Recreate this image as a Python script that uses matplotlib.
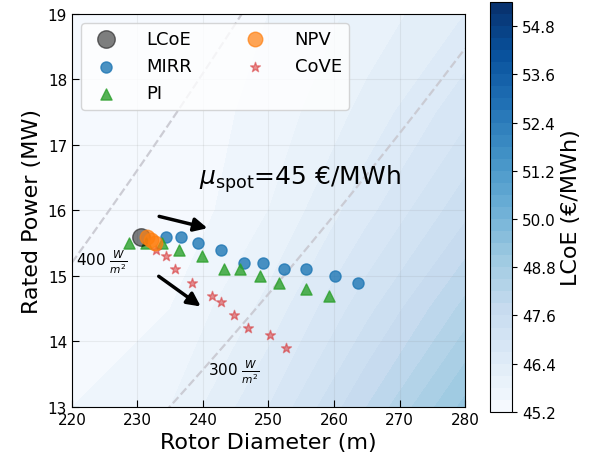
import numpy as np
import matplotlib
matplotlib.use("Agg")
import matplotlib.pyplot as plt

# LCoE background field (EUR/MWh)
grid_d = [220, 235, 250, 265, 280]
grid_p = [13, 14.5, 16, 17.5, 19]
grid_lcoe = [
    [45.5, 45.8, 46.7, 47.9, 49.2],
    [45.4, 45.5, 46.2, 47.2, 48.3],
    [45.4, 45.25, 45.8, 46.6, 47.5],
    [45.4, 45.3, 45.6, 46.2, 46.9],
    [45.4, 45.3, 45.5, 45.9, 46.4],
]

# optimal designs per metric
lcoe_d = [230.6]
lcoe_p = [15.6]
npv_d = [231.4, 232.0, 232.6]
npv_p = [15.6, 15.55, 15.5]
mirr_d = [234.3, 236.7, 239.3, 242.7, 246.2, 249.2, 252.3, 255.7, 260.2, 263.7]
mirr_p = [15.6, 15.6, 15.5, 15.4, 15.2, 15.2, 15.1, 15.1, 15.0, 14.9]
pi_d = [228.7, 231.3, 233.8, 236.3, 239.8, 243.2, 245.7, 248.7, 251.6, 255.7, 259.2]
pi_p = [15.5, 15.5, 15.5, 15.4, 15.3, 15.1, 15.1, 15.0, 14.9, 14.8, 14.7]
cove_d = [232.8, 234.4, 235.8, 238.3, 241.3, 242.7, 244.7, 246.8, 250.2, 252.7]
cove_p = [15.4, 15.3, 15.1, 14.9, 14.7, 14.6, 14.4, 14.2, 14.1, 13.9]

specific_powers = [400, 300]  # W/m^2

fig = plt.figure(figsize=(5.89, 4.64), dpi=100)
ax = fig.add_axes([0.1222, 0.1207, 0.6673, 0.847])
cax = fig.add_axes([0.832, 0.110, 0.0374, 0.8836])

levels = np.linspace(45.2, 55.4, 35)
cf = ax.contourf(grid_d, grid_p, grid_lcoe, levels=levels, cmap="Blues")
cb = fig.colorbar(cf, cax=cax)
cb.set_ticks([45.2, 46.4, 47.6, 48.8, 50.0, 51.2, 52.4, 53.6, 54.8])
cb.ax.tick_params(labelsize=11)
cb.set_label("LCoE (€/MWh)", fontsize=16)

# lines of constant specific power
dd = np.linspace(220, 280, 200)
for sp in specific_powers:
    ax.plot(dd, sp * np.pi * dd**2 / 4 / 1e6, ls="--", color="#c8c8d0", lw=1.6, alpha=0.9, zorder=2)

ax.scatter(mirr_d, mirr_p, s=64, color="C0", alpha=0.8, label="MIRR", zorder=3)
ax.scatter(pi_d, pi_p, s=64, marker="^", color="C2", alpha=0.8, label="PI", zorder=3)
ax.scatter(cove_d, cove_p, s=55, marker="*", color="C3", alpha=0.5, label="CoVE", zorder=3)
ax.scatter(lcoe_d, lcoe_p, s=160, color="k", alpha=0.5, label="LCoE", zorder=4)
ax.scatter(npv_d, npv_p, s=110, color="C1", alpha=0.7, label="NPV", zorder=5)

ax.annotate("", xy=(241.1, 15.72), xytext=(232.9, 15.92),
            arrowprops=dict(arrowstyle="-|>", lw=2.5, color="k", mutation_scale=20))
ax.annotate("", xy=(240.0, 14.51), xytext=(232.9, 15.02),
            arrowprops=dict(arrowstyle="-|>", lw=2.5, color="k", mutation_scale=20))

ax.text(220.6, 15.22, r"400 $\frac{W}{m^2}$", fontsize=11, va="center", ha="left", zorder=6)
ax.text(240.7, 13.55, r"300 $\frac{W}{m^2}$", fontsize=11, va="center", ha="left", zorder=6)
ax.text(254.8, 16.5, r"$\mu_{\rm spot}$=45 €/MWh", fontsize=18, ha="center", va="center")

handles, labels = ax.get_legend_handles_labels()
order = [labels.index(n) for n in ["LCoE", "MIRR", "PI", "NPV", "CoVE"]]
ax.legend([handles[i] for i in order], [labels[i] for i in order],
          ncol=2, loc="upper left", fontsize=13, framealpha=0.8,
          columnspacing=2.5, handletextpad=1.2, borderaxespad=0.5)

ax.set_xlim(220, 280)
ax.set_ylim(13, 19)
ax.set_xticks(range(220, 281, 10))
ax.set_yticks(range(13, 20))
ax.tick_params(direction="in", labelsize=11, length=5)
ax.grid(True, color="gray", alpha=0.12)
ax.set_xlabel("Rotor Diameter (m)", fontsize=16)
ax.set_ylabel("Rated Power (MW)", fontsize=16)

fig.savefig("out.png", dpi=100)
